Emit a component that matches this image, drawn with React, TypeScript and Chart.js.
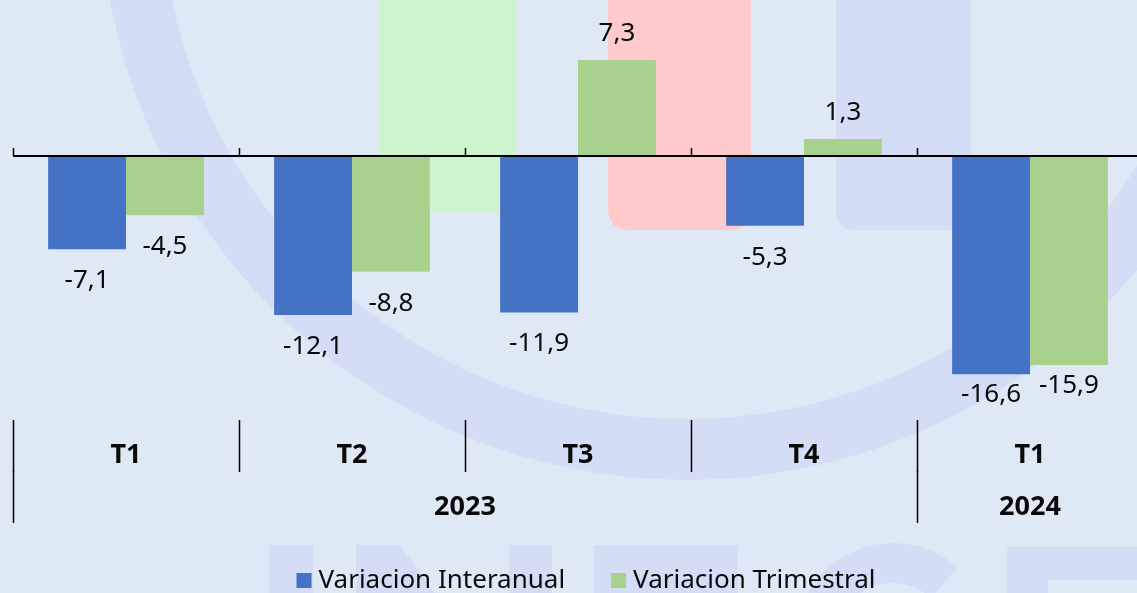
import React, { useEffect, useRef } from "react";
import { Chart, registerables } from "chart.js";

Chart.register(...registerables);

const categories = ["T1", "T2", "T3", "T4", "T1"];
const years = ["2023", "2024"];
const yearSpans = [4, 1];
const seriesNames = ["Variacion Interanual", "Variacion Trimestral"];
const interanual = [-7.1, -12.1, -11.9, -5.3, -16.6];
const trimestral = [-4.5, -8.8, 7.3, 1.3, -15.9];

const BLUE = "#4472c4";
const GREEN = "#a9d18e";
const BG = "#dfe9f5";
const WM = "#d4ddf5";
const TEXT = "#0a0a0a";
const FONT = '"Noto Sans", "Open Sans", sans-serif';

const fmt = (v: number) => v.toFixed(1).replace(".", ",");

function roundRect(ctx: CanvasRenderingContext2D, x: number, y: number, w: number, h: number, rb: number) {
  ctx.beginPath();
  ctx.moveTo(x, y);
  ctx.lineTo(x + w, y);
  ctx.lineTo(x + w, y + h - rb);
  ctx.quadraticCurveTo(x + w, y + h, x + w - rb, y + h);
  ctx.lineTo(x + rb, y + h);
  ctx.quadraticCurveTo(x, y + h, x, y + h - rb);
  ctx.closePath();
  ctx.fill();
}

const backgroundPlugin = {
  id: "wmBackground",
  beforeDraw(chart: any) {
    const ctx: CanvasRenderingContext2D = chart.ctx;
    const W = chart.width;
    const H = chart.height;
    ctx.save();
    ctx.fillStyle = BG;
    ctx.fillRect(0, 0, W, H);
    // ring
    ctx.fillStyle = WM;
    ctx.beginPath();
    ctx.arc(687, -107, 587, 0, Math.PI * 2);
    ctx.closePath();
    ctx.moveTo(687 + 526, -107);
    ctx.arc(687, -107, 526, 0, Math.PI * 2);
    ctx.closePath();
    ctx.fill("evenodd");
    // coloured blocks
    ctx.fillStyle = "#ccf5cd";
    roundRect(ctx, 380, -5, 135, 217, 6);
    ctx.fillStyle = "#ffcacc";
    roundRect(ctx, 608, -5, 143, 235, 22);
    ctx.fillStyle = WM;
    roundRect(ctx, 836, -5, 135, 235, 20);
    // bottom letters
    ctx.fillStyle = WM;
    ctx.fillRect(269, 545, 44, 60);
    ctx.beginPath();
    ctx.moveTo(356, 545);
    ctx.lineTo(400, 545);
    ctx.lineTo(440, 600);
    ctx.lineTo(356, 600);
    ctx.closePath();
    ctx.fill();
    ctx.fillRect(509, 545, 43, 60);
    ctx.fillRect(594, 545, 144, 60);
    ctx.beginPath();
    ctx.arc(893, 640, 97, Math.PI, Math.PI * 2 - 0.84);
    ctx.arc(893, 640, 57, Math.PI * 2 - 0.84, Math.PI, true);
    ctx.closePath();
    ctx.fill();
    ctx.fillRect(1007, 547, 150, 60);
    ctx.fillStyle = BG;
    ctx.fillRect(1048, 580, 120, 30);
    ctx.restore();
  },
};

const overlayPlugin = {
  id: "overlay",
  afterDatasetsDraw(chart: any) {
    const ctx: CanvasRenderingContext2D = chart.ctx;
    const xs = chart.scales.x;
    const ys = chart.scales.y;
    const area = chart.chartArea;
    const n = categories.length;
    const catW = (area.right - area.left) / n;
    const zeroY = ys.getPixelForValue(0);
    ctx.save();

    // zero axis line
    ctx.strokeStyle = "#000";
    ctx.lineWidth = 2;
    ctx.beginPath();
    ctx.moveTo(area.left, zeroY);
    ctx.lineTo(chart.width, zeroY);
    ctx.stroke();
    ctx.lineWidth = 1.5;
    for (let i = 0; i <= n; i++) {
      const bx = Math.round(xs.getPixelForValue(i) - catW / 2) + 0.5;
      ctx.beginPath();
      ctx.moveTo(bx, zeroY - 8);
      ctx.lineTo(bx, zeroY);
      ctx.stroke();
    }

    // data labels
    ctx.fillStyle = TEXT;
    ctx.font = `26px ${FONT}`;
    ctx.textAlign = "center";
    ctx.textBaseline = "alphabetic";
    chart.data.datasets.forEach((ds: any, di: number) => {
      const meta = chart.getDatasetMeta(di);
      meta.data.forEach((bar: any, i: number) => {
        const v = ds.data[i];
        let y;
        if (v >= 0) {
          y = bar.y - 19;
        } else {
          y = bar.y + 39;
          if (y > 398) y = bar.y + 28;
        }
        ctx.fillText(fmt(v), bar.x, y);
      });
    });

    // category axis
    const top = 420;
    ctx.lineWidth = 1.5;
    ctx.strokeStyle = "#000";
    for (let i = 0; i < n; i++) {
      const bx = Math.round(xs.getPixelForValue(i) - catW / 2) + 0.5;
      ctx.beginPath();
      ctx.moveTo(bx, top);
      ctx.lineTo(bx, 472);
      ctx.stroke();
    }
    ctx.font = `bold 27px ${FONT}`;
    categories.forEach((c, i) => {
      ctx.fillText(c, xs.getPixelForValue(i), 463);
    });
    let start = 0;
    years.forEach((yr, k) => {
      const span = yearSpans[k];
      const l = xs.getPixelForValue(start) - catW / 2;
      const r = xs.getPixelForValue(start + span - 1) + catW / 2;
      const bx = Math.round(l) + 0.5;
      ctx.beginPath();
      ctx.moveTo(bx, 470);
      ctx.lineTo(bx, 523);
      ctx.stroke();
      ctx.fillText(yr, (l + r) / 2, 515);
      start += span;
    });

    // legend
    ctx.font = `26px ${FONT}`;
    ctx.textAlign = "left";
    const colors = [BLUE, GREEN];
    const box = 15;
    const gap = 7;
    const itemGap = 46;
    const widths = seriesNames.map((s) => box + gap + ctx.measureText(s).width);
    const total = widths[0] + widths[1] + itemGap;
    let lx = 586 - total / 2;
    seriesNames.forEach((s, i) => {
      ctx.fillStyle = colors[i];
      ctx.fillRect(lx, 573, box, box);
      ctx.fillStyle = TEXT;
      ctx.fillText(s, lx + box + gap, 588);
      lx += widths[i] + itemGap;
    });
    ctx.restore();
  },
};

export default function App() {
  const ref = useRef<HTMLCanvasElement>(null);
  useEffect(() => {
    if (!ref.current) return;
    const chart = new Chart(ref.current, {
      type: "bar",
      data: {
        labels: categories,
        datasets: [
          { label: seriesNames[0], data: interanual, backgroundColor: BLUE, borderWidth: 0 },
          { label: seriesNames[1], data: trimestral, backgroundColor: GREEN, borderWidth: 0 },
        ],
      },
      options: {
        animation: false,
        responsive: false,
        devicePixelRatio: 1,
        layout: { padding: { left: 13, right: 7, top: 0, bottom: 174 } },
        datasets: { bar: { barPercentage: 1, categoryPercentage: 0.689 } },
        scales: {
          x: { display: false, offset: true, grid: { display: false } },
          y: { display: false, min: -20, max: 11.86, grid: { display: false } },
        },
        plugins: { legend: { display: false }, tooltip: { enabled: false } },
      },
      plugins: [backgroundPlugin, overlayPlugin],
    });
    return () => chart.destroy();
  }, []);
  return (
    <div style={{ position: "fixed", left: 0, top: 0, width: 1137, height: 593, overflow: "hidden" }}>
      <canvas ref={ref} width={1150} height={593} style={{ display: "block" }} />
    </div>
  );
}
